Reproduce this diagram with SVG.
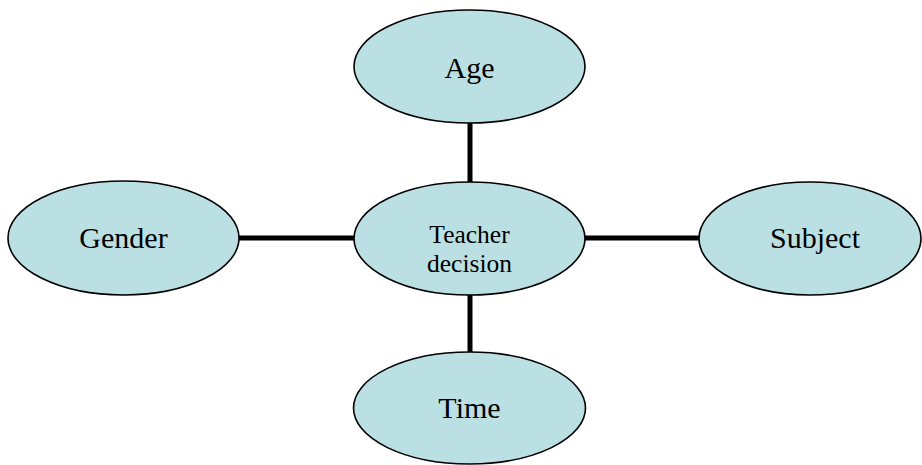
<svg xmlns="http://www.w3.org/2000/svg" width="922" height="465" viewBox="0 0 922 465">
<style>
.node ellipse{fill:#bbe0e3;stroke:#000;stroke-width:1.6}
.node text{font-family:'Liberation Serif','Times New Roman','DejaVu Serif',serif;fill:#000;text-anchor:middle}
.big{font-size:30px}
.small{font-size:25.5px}
#connectors line{stroke:#000;stroke-width:5}
</style>
<rect width="922" height="465" fill="#fff"/>
<g id="connectors">
<line x1="470" y1="122" x2="470" y2="183"/>
<line x1="470" y1="294" x2="470" y2="353"/>
<line x1="238" y1="238" x2="355" y2="238"/>
<line x1="584" y1="238" x2="700" y2="238"/>
</g>
<g id="age" class="node" font-family="Liberation Serif, serif"><ellipse cx="469.5" cy="66.5" rx="115.5" ry="56.5"/><text class="big" x="469.5" y="78">Age</text></g>
<g id="teacher" class="node" font-family="Liberation Serif, serif"><ellipse cx="469.5" cy="238.5" rx="115.5" ry="56.5"/><text class="small" x="469.5" y="243">Teacher</text><text class="small" x="469.5" y="272">decision</text></g>
<g id="gender" class="node" font-family="Liberation Serif, serif"><ellipse cx="123.5" cy="238" rx="115.5" ry="57"/><text class="big" x="123.5" y="248">Gender</text></g>
<g id="subject" class="node" font-family="Liberation Serif, serif"><ellipse cx="810" cy="238.5" rx="111" ry="56.5"/><text class="big" x="815" y="248">Subject</text></g>
<g id="time" class="node" font-family="Liberation Serif, serif"><ellipse cx="469.5" cy="408" rx="116" ry="56"/><text class="big" x="469.5" y="418">Time</text></g>
</svg>
